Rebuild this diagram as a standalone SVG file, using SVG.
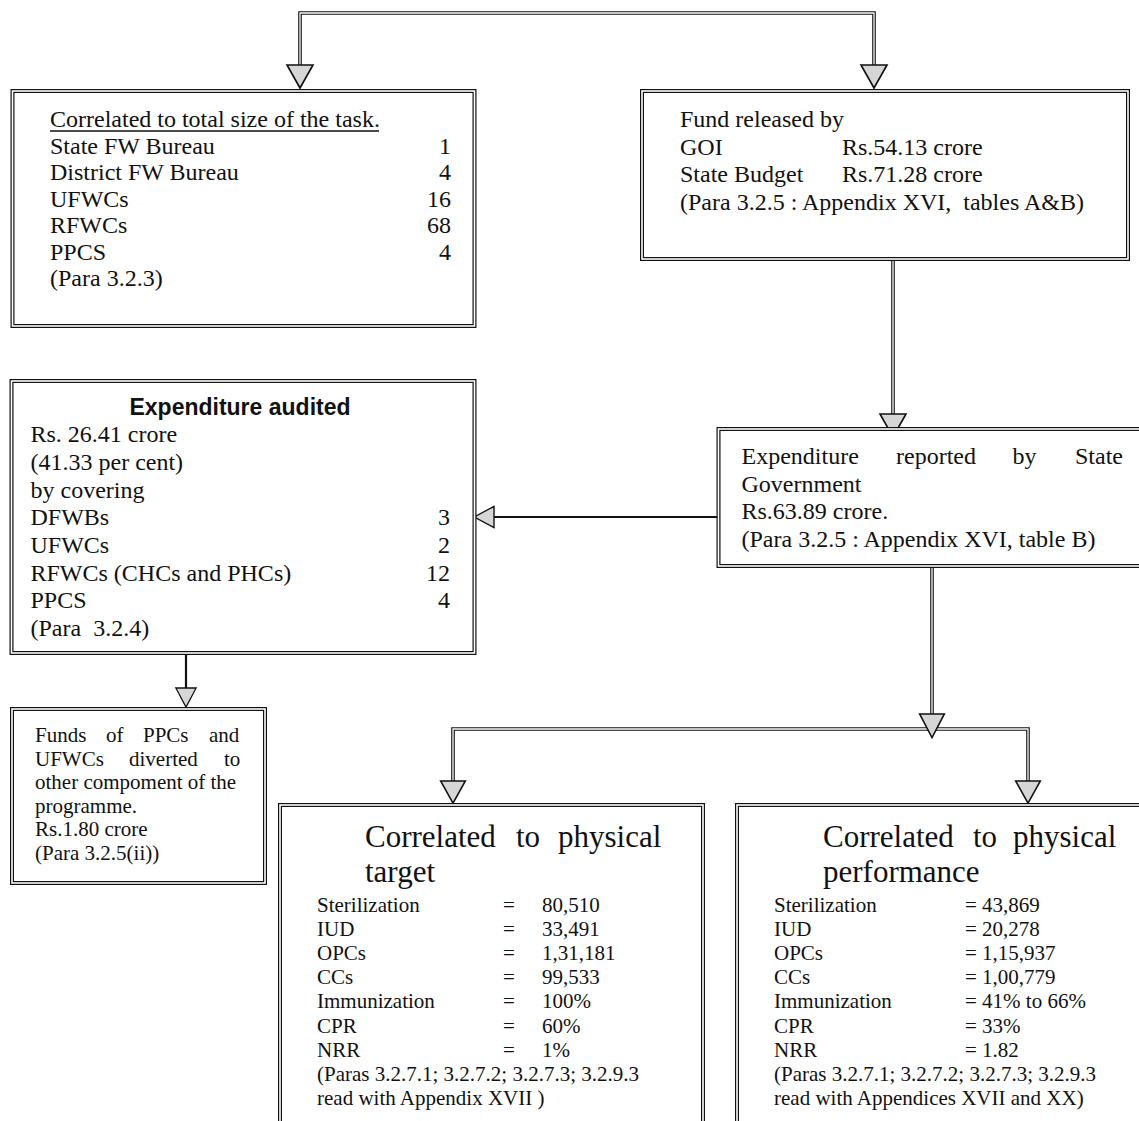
<svg xmlns="http://www.w3.org/2000/svg" xmlns:xlink="http://www.w3.org/1999/xlink" width="1139" height="1121" viewBox="0 0 1139 1121">
<style>
  .bx { fill:#fff; stroke:#111; stroke-width:4; }
  .bxi { fill:none; stroke:#fff; stroke-width:1.6; }
  .pipe { fill:none; stroke:#111; stroke-width:3.6; }
  .pipei { fill:none; stroke:#fff; stroke-width:1.3; }
  .solid { fill:none; stroke:#111; stroke-width:2.2; }
  .arr { fill:#d6d6d6; stroke:#111; stroke-width:1.6; stroke-linejoin:miter; }
  text { font-family:"Liberation Serif","Times New Roman",serif; fill:#111; white-space:pre; }
  .t24 { font-size:24px; }
  .t21 { font-size:21px; }
  .t31 { font-size:31px; }
  .hd { font-family:"Liberation Sans",Arial,sans-serif; font-weight:bold; font-size:23px; }
</style>
<defs>
  <path id="tri" d="M-13,0 L13,0 L0,23 Z"/>
</defs>
<rect width="1139" height="1121" fill="#fff"/>

<g id="connectors">
  <path class="pipe" d="M300,66 V13 H874 V66"/>
  <path class="pipei" d="M300,66 V13 H874 V66"/>
  <path class="pipe" d="M893,259 V415"/>
  <path class="pipei" d="M893,259 V415"/>
  <path class="solid" d="M718,517 H493"/>
  <path class="solid" d="M186,653 V689"/>
  <path class="pipe" d="M932,566 V714"/>
  <path class="pipei" d="M932,566 V714"/>
  <path class="pipe" d="M453,782 V729 H1028 V782"/>
  <path class="pipei" d="M453,782 V729 H1028 V782"/>
  <use xlink:href="#tri" class="arr" transform="translate(300,65)"/>
  <use xlink:href="#tri" class="arr" transform="translate(874,65)"/>
  <use xlink:href="#tri" class="arr" transform="translate(893,414)"/>
  <use xlink:href="#tri" class="arr" transform="translate(494,517) rotate(90) scale(0.82,0.86)"/>
  <use xlink:href="#tri" class="arr" transform="translate(186,688) scale(0.78,0.83)"/>
  <use xlink:href="#tri" class="arr" transform="translate(932,714) scale(0.95,1.03)"/>
  <use xlink:href="#tri" class="arr" transform="translate(453,781) scale(0.95,0.96)"/>
  <use xlink:href="#tri" class="arr" transform="translate(1028,781) scale(0.95,0.96)"/>
</g>

<g id="node-task">
  <rect class="bx" x="12.5" y="91" width="462" height="235"/>
  <rect class="bxi" x="12.5" y="91" width="462" height="235"/>
  <text class="t24" x="50" y="127">Correlated to total size of the task.</text>
  <line x1="50" y1="131" x2="379" y2="131" stroke="#111" stroke-width="1.3"/>
  <text class="t24" x="50" y="153.5">State FW Bureau</text>
  <text class="t24" x="50" y="180">District FW Bureau</text>
  <text class="t24" x="50" y="206.5">UFWCs</text>
  <text class="t24" x="50" y="233">RFWCs</text>
  <text class="t24" x="50" y="259.5">PPCS</text>
  <text class="t24" x="50" y="286">(Para 3.2.3)</text>
  <g text-anchor="end">
    <text class="t24" x="451" y="153.5">1</text>
    <text class="t24" x="451" y="180">4</text>
    <text class="t24" x="451" y="206.5">16</text>
    <text class="t24" x="451" y="233">68</text>
    <text class="t24" x="451" y="259.5">4</text>
  </g>
</g>

<g id="node-fund">
  <rect class="bx" x="642" y="91" width="486" height="168"/>
  <rect class="bxi" x="642" y="91" width="486" height="168"/>
  <text class="t24" x="680" y="127">Fund released by</text>
  <text class="t24" x="680" y="154.5">GOI</text>
  <text class="t24" x="842" y="154.5">Rs.54.13 crore</text>
  <text class="t24" x="680" y="182">State Budget</text>
  <text class="t24" x="842" y="182">Rs.71.28 crore</text>
  <text class="t24" x="680" y="209.5">(Para 3.2.5 : Appendix XVI,  tables A&amp;B)</text>
</g>

<g id="node-audited">
  <rect class="bx" x="11.5" y="381" width="463" height="272"/>
  <rect class="bxi" x="11.5" y="381" width="463" height="272"/>
  <text class="hd" x="240" y="415" text-anchor="middle">Expenditure audited</text>
  <text class="t24" x="30.5" y="442">Rs. 26.41 crore</text>
  <text class="t24" x="30.5" y="470">(41.33 per cent)</text>
  <text class="t24" x="30.5" y="497.5">by covering</text>
  <text class="t24" x="30.5" y="525">DFWBs</text>
  <text class="t24" x="30.5" y="553">UFWCs</text>
  <text class="t24" x="30.5" y="580.5">RFWCs (CHCs and PHCs)</text>
  <text class="t24" x="30.5" y="608">PPCS</text>
  <text class="t24" x="30.5" y="636">(Para  3.2.4)</text>
  <g text-anchor="end">
    <text class="t24" x="450" y="525">3</text>
    <text class="t24" x="450" y="553">2</text>
    <text class="t24" x="450" y="580.5">12</text>
    <text class="t24" x="450" y="608">4</text>
  </g>
</g>

<g id="node-reported">
  <rect class="bx" x="718.5" y="429" width="440" height="137"/>
  <rect class="bxi" x="718.5" y="429" width="440" height="137"/>
  <text class="t24" x="741.5" y="464">Expenditure</text>
  <text class="t24" x="896" y="464">reported</text>
  <text class="t24" x="1012.5" y="464">by</text>
  <text class="t24" x="1075" y="464">State</text>
  <text class="t24" x="741.5" y="491.5">Government</text>
  <text class="t24" x="741.5" y="519">Rs.63.89 crore.</text>
  <text class="t24" x="741.5" y="546.5">(Para 3.2.5 : Appendix XVI, table B)</text>
</g>

<g id="node-diverted">
  <rect class="bx" x="12" y="709" width="253" height="174"/>
  <rect class="bxi" x="12" y="709" width="253" height="174"/>
  <text class="t21" x="35" y="742">Funds</text>
  <text class="t21" x="106" y="742">of</text>
  <text class="t21" x="143" y="742">PPCs</text>
  <text class="t21" x="209" y="742">and</text>
  <text class="t21" x="35" y="765.5">UFWCs</text>
  <text class="t21" x="129" y="765.5">diverted</text>
  <text class="t21" x="224" y="765.5">to</text>
  <text class="t21" x="35" y="789">other compoment of the</text>
  <text class="t21" x="35" y="812.5">programme.</text>
  <text class="t21" x="35" y="836">Rs.1.80 crore</text>
  <text class="t21" x="35" y="859.5">(Para 3.2.5(ii))</text>
</g>

<g id="node-target">
  <rect class="bx" x="280" y="805" width="423" height="330"/>
  <rect class="bxi" x="280" y="805" width="423" height="330"/>
  <text class="t31" x="365" y="847">Correlated</text>
  <text class="t31" x="516" y="847">to</text>
  <text class="t31" x="558" y="847">physical</text>
  <text class="t31" x="365" y="882">target</text>
  <g class="t21">
    <text x="317" y="911.5">Sterilization</text><text x="503" y="911.5">=</text><text x="542" y="911.5">80,510</text>
    <text x="317" y="935.7">IUD</text><text x="503" y="935.7">=</text><text x="542" y="935.7">33,491</text>
    <text x="317" y="959.9">OPCs</text><text x="503" y="959.9">=</text><text x="542" y="959.9">1,31,181</text>
    <text x="317" y="984.1">CCs</text><text x="503" y="984.1">=</text><text x="542" y="984.1">99,533</text>
    <text x="317" y="1008.3">Immunization</text><text x="503" y="1008.3">=</text><text x="542" y="1008.3">100%</text>
    <text x="317" y="1032.5">CPR</text><text x="503" y="1032.5">=</text><text x="542" y="1032.5">60%</text>
    <text x="317" y="1056.7">NRR</text><text x="503" y="1056.7">=</text><text x="542" y="1056.7">1%</text>
    <text x="317" y="1080.9">(Paras 3.2.7.1; 3.2.7.2; 3.2.7.3; 3.2.9.3</text>
    <text x="317" y="1105.1">read with Appendix XVII )</text>
  </g>
</g>

<g id="node-performance">
  <rect class="bx" x="737" y="805" width="420" height="330"/>
  <rect class="bxi" x="737" y="805" width="420" height="330"/>
  <text class="t31" x="823" y="847">Correlated</text>
  <text class="t31" x="973" y="847">to</text>
  <text class="t31" x="1013" y="847">physical</text>
  <text class="t31" x="823" y="882">performance</text>
  <g class="t21">
    <text x="774" y="911.5">Sterilization</text><text x="965" y="911.5">= 43,869</text>
    <text x="774" y="935.7">IUD</text><text x="965" y="935.7">= 20,278</text>
    <text x="774" y="959.9">OPCs</text><text x="965" y="959.9">= 1,15,937</text>
    <text x="774" y="984.1">CCs</text><text x="965" y="984.1">= 1,00,779</text>
    <text x="774" y="1008.3">Immunization</text><text x="965" y="1008.3">= 41% to 66%</text>
    <text x="774" y="1032.5">CPR</text><text x="965" y="1032.5">= 33%</text>
    <text x="774" y="1056.7">NRR</text><text x="965" y="1056.7">= 1.82</text>
    <text x="774" y="1080.9">(Paras 3.2.7.1; 3.2.7.2; 3.2.7.3; 3.2.9.3</text>
    <text x="774" y="1105.1">read with Appendices XVII and XX)</text>
  </g>
</g>
</svg>
